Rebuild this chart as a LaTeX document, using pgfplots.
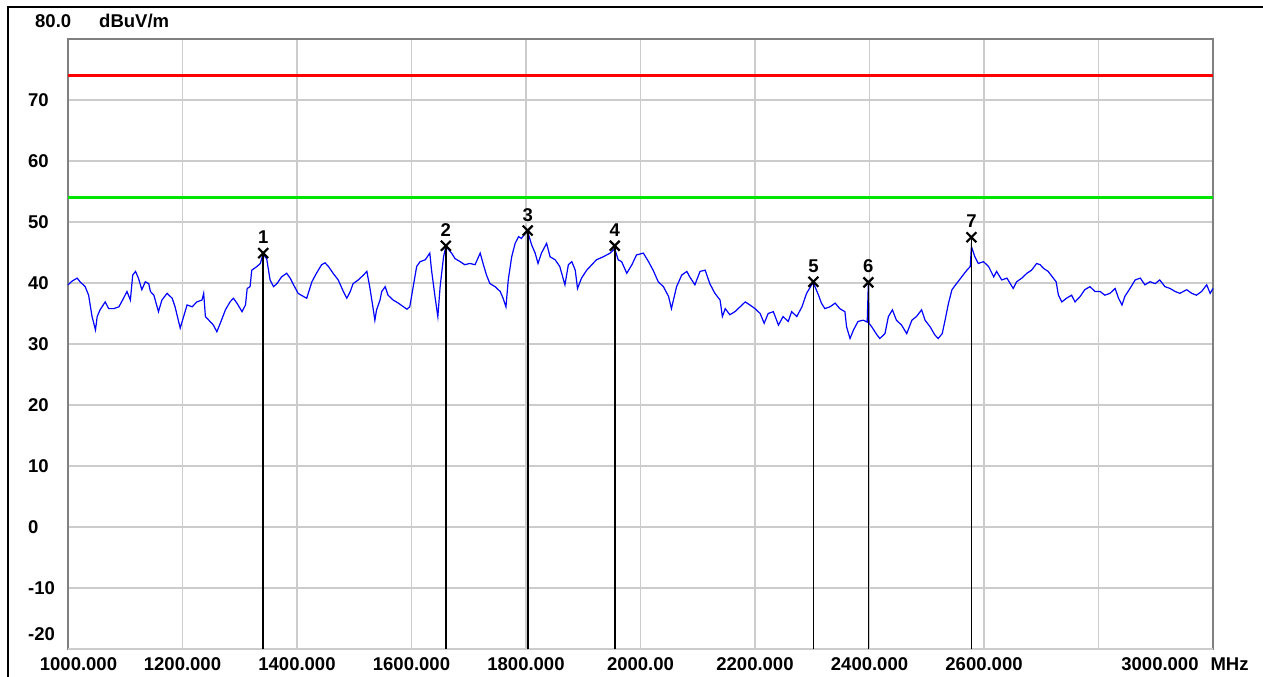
\documentclass[border=0pt]{standalone}
\usepackage{pgfplots}
\pgfplotsset{compat=1.18}
\usepackage{fontspec}
\setmainfont{Liberation Sans}
\definecolor{gridgray}{RGB}{204,204,204}
\definecolor{framegray}{RGB}{128,128,128}
\definecolor{limred}{RGB}{255,0,0}
\definecolor{limgreen}{RGB}{0,230,0}
\definecolor{traceblue}{RGB}{0,0,255}
\newcommand{\lbl}{\bfseries\fontsize{18.5bp}{22bp}\selectfont}
\pgfplotstableread{
x y
1000 39.7
1007 40.3
1016 40.8
1021 40.2
1030 39.4
1036 38.0
1042 34.5
1048 32.3
1051 34.5
1056 35.6
1065 36.9
1071 35.8
1080 35.8
1089 36.1
1097 37.5
1103 38.6
1109 37.2
1113 41.3
1118 41.9
1123 40.8
1129 38.9
1135 40.2
1141 39.9
1144 38.6
1150 38.0
1158 35.3
1164 37.2
1173 38.3
1182 37.5
1187 36.1
1196 32.6
1202 34.5
1208 36.4
1217 36.1
1225 36.9
1234 37.2
1237 38.3
1240 34.5
1246 33.9
1254 33.1
1260 32.0
1266 33.4
1275 35.6
1283 36.9
1289 37.5
1295 36.7
1304 35.3
1310 36.4
1313 39.1
1318 39.4
1321 42.1
1330 42.7
1336 43.2
1341 44.9
1344 44.3
1347 44.0
1353 40.5
1359 39.4
1365 39.9
1373 41.0
1382 41.6
1388 40.8
1394 39.7
1402 38.3
1411 37.8
1417 37.5
1426 40.2
1434 41.6
1443 43.0
1449 43.3
1455 42.7
1463 41.6
1472 40.5
1481 38.6
1487 37.5
1493 38.6
1498 39.9
1507 40.5
1516 41.3
1522 41.9
1527 39.4
1533 35.8
1536 33.9
1539 35.6
1545 37.2
1548 38.6
1554 39.4
1559 38.0
1568 37.2
1577 36.7
1586 36.1
1592 35.7
1597 36.1
1603 39.4
1609 42.7
1615 43.5
1624 43.8
1632 44.9
1635 42.1
1641 37.8
1646 34.5
1650 39.4
1656 44.3
1660 46.0
1670 44.9
1676 44.0
1685 43.5
1693 43.0
1702 43.2
1711 43.0
1720 44.9
1725 43.2
1731 41.3
1737 39.9
1746 39.4
1755 38.6
1760 37.5
1765 36.1
1769 40.5
1775 44.3
1781 46.5
1787 47.6
1792 47.3
1798 48.1
1803 48.4
1810 46.2
1816 44.9
1821 43.2
1827 44.9
1836 46.5
1842 44.3
1851 43.8
1859 42.7
1868 39.7
1874 43.0
1880 43.5
1886 42.1
1890 39.1
1897 40.8
1906 42.1
1915 43.0
1923 43.8
1935 44.3
1947 44.9
1955 45.6
1961 43.8
1967 43.5
1976 41.6
1985 43.0
1993 44.6
2005 44.9
2014 43.5
2022 42.1
2031 40.2
2040 39.4
2049 37.8
2054 35.8
2063 39.4
2072 41.3
2081 41.9
2086 41.0
2095 39.7
2104 41.9
2113 42.1
2121 39.9
2130 38.3
2139 37.2
2143 34.5
2148 35.8
2156 34.8
2165 35.3
2174 36.1
2183 36.9
2191 36.4
2200 35.8
2209 35.0
2216 33.4
2223 35.0
2232 35.3
2241 33.1
2249 34.5
2258 33.7
2264 35.3
2273 34.5
2282 36.1
2290 38.3
2299 39.7
2302 40.0
2311 38.0
2316 36.7
2322 35.8
2331 36.1
2340 36.7
2348 35.8
2357 35.3
2360 32.8
2366 30.9
2372 32.3
2380 33.7
2389 33.9
2396 33.6
2398 40.0
2399 33.4
2404 32.8
2413 31.5
2418 30.9
2427 31.7
2433 34.5
2440 35.6
2447 33.9
2456 33.1
2465 31.7
2474 33.9
2482 34.5
2491 35.6
2497 33.9
2506 32.8
2514 31.5
2520 30.9
2527 31.7
2532 33.9
2538 36.7
2544 38.9
2552 39.9
2561 41.0
2570 42.1
2576 42.7
2578 46.0
2580 45.4
2584 44.3
2590 43.2
2599 43.5
2608 42.7
2617 41.0
2622 41.9
2631 40.5
2640 40.8
2651 39.1
2657 40.2
2666 40.8
2675 41.6
2683 42.1
2692 43.2
2698 43.0
2704 42.4
2712 41.9
2721 40.8
2726 40.2
2730 38.0
2736 36.9
2744 37.5
2753 38.0
2759 36.9
2768 37.8
2776 38.9
2785 39.4
2794 38.6
2803 38.6
2811 38.0
2820 38.3
2829 39.1
2835 37.5
2841 36.4
2846 37.8
2855 39.1
2864 40.5
2873 40.8
2881 39.7
2890 40.2
2899 39.9
2907 40.5
2916 39.4
2925 39.1
2934 38.6
2942 38.3
2954 38.9
2963 38.3
2971 38.0
2980 38.6
2989 39.7
2995 38.3
3000 39.1
}\tracedata
\pgfplotstableread{
x y label
1341 44.9 1
1660 46.1 2
1803 48.6 3
1955 46.1 4
2302 40.2 5
2398 40.1 6
2578 47.5 7
}\markerdata

\begin{document}
\begin{tikzpicture}
\useasboundingbox (-68bp,-28bp) rectangle (1195bp,649bp);
\draw[black, line width=2bp] (-60bp,-28bp) -- (-60bp,642bp) -- (1195bp,642bp);
\begin{axis}[
  at={(0,0)}, anchor=south west,
  scale only axis, width=1145bp, height=610bp,
  xmin=1000, xmax=3000, ymin=-20, ymax=80,
  axis line style={framegray, line width=2.6bp},
  grid=major, grid style={gridgray, line width=1.3bp},
  major tick length=0pt,
  xtick={1000,1200,...,3000},
  xticklabels={\hspace*{21bp}1000.000, 1200.000, 1400.000, 1600.000, 1800.000, 2000.00, 2200.000, 2400.000, 2600.000, {}, 3000.000\hspace{12bp}MHz\hspace*{56bp}},
  ytick={-10,0,...,70},
  yticklabels={-10,0,10,20,30,40,50,60,70},
  extra y ticks={-20}, extra y tick labels={-20},
  extra y tick style={yticklabel style={yshift=15bp}},
  xticklabel style={font=\lbl, anchor=north, inner sep=0pt, yshift=-8bp},
  yticklabel style={font=\lbl, anchor=west, inner sep=0pt, xshift=-40bp},
  clip=false,
]
\addplot[limred, line width=2.7bp] coordinates {(1000,74) (3000,74)};
\addplot[limgreen, line width=2.7bp] coordinates {(1000,54) (3000,54)};
\addplot[traceblue, line width=1.2bp] table[x=x,y=y] {\tracedata};
\addplot[black, line width=1.6bp] coordinates {(1341,-20) (1341,44.9)};
\addplot[black, line width=1.6bp] coordinates {(1660,-20) (1660,46.1)};
\addplot[black, line width=1.6bp] coordinates {(1803,-20) (1803,48.6)};
\addplot[black, line width=1.6bp] coordinates {(1955,-20) (1955,46.1)};
\addplot[black, line width=1.6bp] coordinates {(2302,-20) (2302,40.2)};
\addplot[black, line width=1.6bp] coordinates {(2398,-20) (2398,40.1)};
\addplot[black, line width=1.6bp] coordinates {(2578,-20) (2578,47.5)};
\addplot[only marks, mark=x, mark size=7bp, mark options={line width=2.2bp, black},
  nodes near coords, point meta=explicit symbolic,
  every node near coord/.append style={anchor=base, yshift=9.5bp, inner sep=0pt, font=\lbl, black}]
  table[x=x,y=y,meta=label] {\markerdata};
\end{axis}
\node[font=\lbl, anchor=base west, inner sep=0pt] at (-33bp,621bp) {80.0};
\node[font=\lbl, anchor=base west, inner sep=0pt] at (31bp,621bp) {dBuV/m};
\end{tikzpicture}
\end{document}
